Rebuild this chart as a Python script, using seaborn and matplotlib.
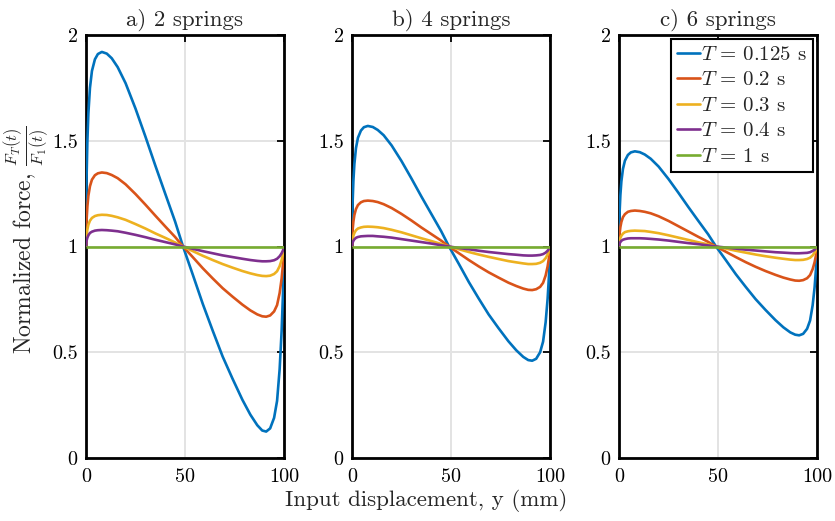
import matplotlib
matplotlib.use("Agg")
import matplotlib.pyplot as plt
import seaborn as sns
import pandas as pd

# ---------------- data ----------------
x_mm = [0, 0.3, 0.7, 1.2, 2, 3, 4.5, 6, 8, 10.5, 13, 16, 20, 25, 30, 35, 40, 45, 49,
        54, 59, 64, 69, 74, 79, 83, 86.5, 89, 91, 93, 95, 96.5, 97.8, 98.8, 99.5, 100]

titles = ["a) 2 springs", "b) 4 springs", "c) 6 springs"]
periods = ["0.125", "0.2", "0.3", "0.4", "1"]

# subplot a) 2 springs
a_T0125 = [1, 1.33, 1.50, 1.63, 1.75, 1.83, 1.885, 1.91, 1.92, 1.912, 1.89, 1.848, 1.772, 1.652, 1.52, 1.383, 1.25, 1.118, 1.0,
           0.865, 0.728, 0.602, 0.48, 0.375, 0.275, 0.205, 0.155, 0.13, 0.125, 0.14, 0.19, 0.27, 0.42, 0.60, 0.78, 1.0]
a_T02 = [1, 1.126, 1.19, 1.24, 1.285, 1.316, 1.337, 1.346, 1.35, 1.347, 1.338, 1.323, 1.294, 1.248, 1.198, 1.146, 1.095, 1.045, 1.0,
         0.949, 0.897, 0.849, 0.803, 0.763, 0.725, 0.698, 0.679, 0.67, 0.668, 0.674, 0.693, 0.723, 0.78, 0.848, 0.917, 1.0]
a_T03 = [1, 1.054, 1.081, 1.103, 1.122, 1.135, 1.144, 1.148, 1.15, 1.149, 1.145, 1.138, 1.126, 1.106, 1.085, 1.062, 1.041, 1.019, 1.0,
         0.978, 0.956, 0.936, 0.917, 0.9, 0.884, 0.873, 0.865, 0.861, 0.86, 0.862, 0.87, 0.883, 0.907, 0.936, 0.965, 1.0]
a_T04 = [1, 1.028, 1.042, 1.053, 1.064, 1.07, 1.075, 1.077, 1.078, 1.077, 1.075, 1.072, 1.065, 1.055, 1.044, 1.032, 1.021, 1.01, 1.0,
         0.989, 0.978, 0.968, 0.958, 0.95, 0.942, 0.936, 0.932, 0.93, 0.93, 0.931, 0.935, 0.942, 0.954, 0.968, 0.982, 1.0]

# subplot b) 4 springs
b_T0125 = [1, 1.205, 1.31, 1.39, 1.465, 1.514, 1.548, 1.564, 1.57, 1.565, 1.551, 1.526, 1.478, 1.404, 1.322, 1.237, 1.155, 1.073, 1.0,
           0.917, 0.832, 0.754, 0.679, 0.614, 0.552, 0.509, 0.478, 0.463, 0.46, 0.469, 0.5, 0.55, 0.642, 0.753, 0.864, 1.0]
b_T02 = [1, 1.078, 1.118, 1.149, 1.177, 1.196, 1.209, 1.215, 1.217, 1.215, 1.21, 1.2, 1.182, 1.154, 1.123, 1.09, 1.059, 1.028, 1.0,
         0.968, 0.936, 0.906, 0.878, 0.853, 0.829, 0.813, 0.801, 0.795, 0.794, 0.798, 0.809, 0.828, 0.863, 0.906, 0.948, 1.0]
b_T03 = [1, 1.034, 1.051, 1.064, 1.077, 1.085, 1.09, 1.093, 1.094, 1.093, 1.091, 1.087, 1.079, 1.067, 1.053, 1.039, 1.026, 1.012, 1.0,
         0.987, 0.974, 0.962, 0.951, 0.941, 0.931, 0.925, 0.92, 0.917, 0.917, 0.918, 0.923, 0.931, 0.945, 0.962, 0.979, 1.0]
b_T04 = [1, 1.018, 1.027, 1.034, 1.041, 1.045, 1.048, 1.049, 1.05, 1.05, 1.048, 1.046, 1.042, 1.035, 1.028, 1.021, 1.014, 1.006, 1.0,
         0.993, 0.987, 0.98, 0.974, 0.969, 0.964, 0.961, 0.958, 0.957, 0.957, 0.958, 0.96, 0.964, 0.971, 0.98, 0.989, 1.0]

# subplot c) 6 springs
c_T0125 = [1, 1.162, 1.244, 1.308, 1.367, 1.406, 1.433, 1.445, 1.45, 1.446, 1.435, 1.415, 1.378, 1.319, 1.254, 1.187, 1.122, 1.058, 1.0,
           0.935, 0.869, 0.809, 0.751, 0.7, 0.652, 0.618, 0.594, 0.583, 0.58, 0.587, 0.611, 0.65, 0.722, 0.808, 0.895, 1.0]
c_T02 = [1, 1.061, 1.092, 1.116, 1.139, 1.153, 1.164, 1.168, 1.17, 1.168, 1.164, 1.157, 1.143, 1.121, 1.096, 1.071, 1.046, 1.022, 1.0,
         0.975, 0.95, 0.926, 0.904, 0.884, 0.866, 0.853, 0.844, 0.839, 0.838, 0.841, 0.85, 0.865, 0.893, 0.926, 0.959, 1.0]
c_T03 = [1, 1.027, 1.041, 1.051, 1.061, 1.068, 1.072, 1.074, 1.075, 1.074, 1.073, 1.069, 1.063, 1.053, 1.042, 1.031, 1.02, 1.01, 1.0,
         0.99, 0.98, 0.971, 0.962, 0.954, 0.947, 0.942, 0.938, 0.936, 0.936, 0.937, 0.941, 0.947, 0.958, 0.971, 0.984, 1.0]
c_T04 = [1, 1.014, 1.021, 1.027, 1.032, 1.035, 1.038, 1.039, 1.039, 1.039, 1.038, 1.036, 1.033, 1.028, 1.022, 1.016, 1.011, 1.005, 1.0,
         0.995, 0.99, 0.985, 0.981, 0.977, 0.973, 0.971, 0.969, 0.968, 0.968, 0.969, 0.97, 0.973, 0.979, 0.985, 0.992, 1.0]

T1_x = [0, 100]
T1_y = [1.0, 1.0]

panels = [
    [a_T0125, a_T02, a_T03, a_T04],
    [b_T0125, b_T02, b_T03, b_T04],
    [c_T0125, c_T02, c_T03, c_T04],
]

y_ticks = [0, 0.5, 1, 1.5, 2]
y_tick_labels = ["0", "0.5", "1", "1.5", "2"]
x_ticks = [0, 50, 100]
x_tick_labels = ["0", "50", "100"]

colors = ["#0072BD", "#D95319", "#EDB120", "#7E2F8E", "#77AC30"]

# ---------------- style ----------------
sns.set_theme(style="white")
plt.rcParams["font.family"] = ["cmr10", "DejaVu Serif"]
plt.rcParams["mathtext.fontset"] = "cm"
plt.rcParams["axes.unicode_minus"] = False
plt.rcParams["axes.formatter.use_mathtext"] = True

fig = plt.figure(figsize=(8.35, 5.21), dpi=100)
W, H = 835, 521
lefts = [86, 352, 619]
ax_w = 198
top_px, bot_px = 35, 458
axes = []
for lp in lefts:
    ax = fig.add_axes([lp / W, 1 - bot_px / H, ax_w / W, (bot_px - top_px) / H])
    axes.append(ax)

for i, ax in enumerate(axes):
    rows = []
    for p, yv in zip(periods[:4], panels[i]):
        for xv, yy in zip(x_mm, yv):
            rows.append({"x": xv, "y": yy, "T": p})
    for xv, yy in zip(T1_x, T1_y):
        rows.append({"x": xv, "y": yy, "T": periods[4]})
    df = pd.DataFrame(rows)
    sns.lineplot(data=df, x="x", y="y", hue="T", hue_order=periods,
                 palette=colors, ax=ax, sort=False, estimator=None,
                 linewidth=1.9, legend=False, zorder=3)
    for ln in ax.get_lines():
        ln.set_solid_joinstyle("round")
        ln.set_solid_capstyle("butt")
    ax.set_xlim(0, 100)
    ax.set_ylim(0, 2)
    ax.set_xticks(x_ticks)
    ax.set_xticklabels(x_tick_labels)
    ax.set_yticks(y_ticks)
    ax.set_yticklabels(y_tick_labels)
    ax.grid(True, color="#e3e3e3", linewidth=1.4, zorder=0)
    ax.set_axisbelow(True)
    ax.tick_params(direction="in", length=5, width=1.3, top=True, right=True,
                   labelsize=14.5, colors="black")
    ax.tick_params(axis="x", pad=7)
    ax.tick_params(axis="y", pad=6)
    for s in ax.spines.values():
        s.set_linewidth(2.0)
        s.set_color("black")
    ax.set_xlabel("")
    ax.set_ylabel("")
    ax.set_title(titles[i], fontsize=16.5, pad=7)

fig.text(27 / W, 1 - 240 / H, r"Normalized force, $\frac{F_T(t)}{F_1(t)}$",
         rotation=90, ha="center", va="center", fontsize=17)
fig.text(426 / W, 1 - 500 / H, "Input displacement, y (mm)",
         ha="center", va="center", fontsize=16.5)

handles = [plt.Line2D([], [], color=c, linewidth=1.9) for c in colors]
labels = [r"$T\,=\,%s$ s" % p for p in periods]
leg = axes[2].legend(handles, labels, loc="upper right", fontsize=15,
                     frameon=True, fancybox=False, handlelength=1.1,
                     handletextpad=0.05, borderpad=0.3, labelspacing=0.33,
                     borderaxespad=0.2)
leg.get_frame().set_edgecolor("black")
leg.get_frame().set_linewidth(1.5)
leg.get_frame().set_alpha(1)

fig.savefig("out.png", dpi=100)
